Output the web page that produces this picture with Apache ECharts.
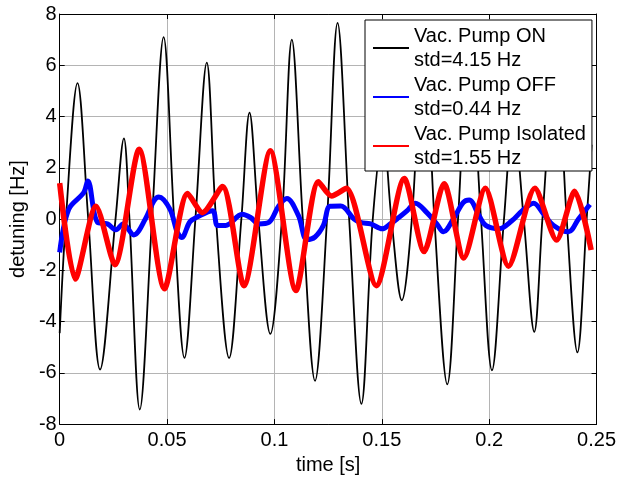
<!DOCTYPE html>
<html>
<head>
    <meta charset="utf-8">
    <script src="https://cdn.jsdelivr.net/npm/echarts@6/dist/echarts.min.js"></script>
    <style>html, body { margin: 0; padding: 0; background: #fff; }</style>
</head>
<body>
    <div id="main" style="width: 619px;height:480px;"></div>
    <script type="text/javascript">
        // 读图得到的数据 (time [s], detuning [Hz])
        var tOn = [0, 0.0029, 0.0083, 0.0133, 0.0188, 0.026, 0.0299, 0.0325, 0.0373, 0.043, 0.0484, 0.0533,
            0.0581, 0.0632, 0.0685, 0.0728, 0.0789, 0.0846, 0.0884, 0.0925, 0.0981, 0.1035, 0.1081, 0.1132,
            0.1189, 0.1245, 0.1294, 0.1348, 0.1405, 0.1458, 0.1506, 0.1545, 0.1593, 0.164, 0.1696, 0.1745,
            0.1805, 0.1855, 0.1906, 0.1962, 0.2013, 0.2069, 0.2112, 0.2161, 0.221, 0.2248, 0.2311, 0.2361,
            0.2411, 0.2454, 0.2477];
        var yOn = [-4.45, 0, 5.3, 0, -5.87, 0, 3.15, 0, -7.43, 0, 7.1, 0,
            -5.42, 0, 6.1, 0, -5.42, 0, 4.15, 0, -4.48, 0, 7.0, 0,
            -6.31, 0, 7.65, 0, -7.21, 0, 3.3, 0, -3.17, 0, 7.5, 0,
            -6.45, 0, 7.0, 0, -5.9, 0, 3.9, 0, -4.4, 0, 6.6, 0,
            -5.2, 0, 2.9];

        var tOff = [0, 0.0042, 0.0111, 0.0131, 0.0176, 0.0222, 0.0262, 0.0295, 0.0345, 0.0399, 0.0438, 0.0462,
            0.0514, 0.0545, 0.0568, 0.0607, 0.0645, 0.0712, 0.0735, 0.0773, 0.085, 0.0889, 0.0927, 0.0974,
            0.102, 0.1058, 0.1112, 0.1151, 0.1189, 0.1228, 0.1259, 0.1309, 0.1371, 0.1401, 0.1448, 0.1502,
            0.154, 0.1579, 0.1617, 0.1656, 0.171, 0.1756, 0.1787, 0.1833, 0.1879, 0.1907, 0.1953, 0.1984,
            0.2046, 0.2107, 0.2153, 0.2207, 0.2254, 0.23, 0.2369, 0.2416, 0.2469];
        var yOff = [-1.3, 0.38, 1.02, 1.48, -0.13, -0.19, -0.42, -0.19, -0.62, 0, 0.7, 0.86,
            0.38, -0.45, -0.72, -0.1, 0.1, 0.32, -0.25, -0.25, 0.19, 0.06, -0.19, -0.13,
            0.51, 0.8, 0.13, -0.8, -0.7, -0.25, 0.5, 0.51, 0, -0.13, -0.19, -0.38,
            -0.19, 0.06, 0.32, 0.62, 0.25, -0.19, -0.5, 0, 0.64, 0.74, 0.13, -0.25,
            -0.38, -0.06, 0.32, 0.62, 0.19, -0.25, -0.5, 0, 0.57];

        var tIso = [0, 0.00725, 0.0169, 0.0257, 0.037, 0.0488, 0.0596, 0.0665, 0.0758, 0.0858, 0.0981, 0.11,
            0.1205, 0.1266, 0.1335, 0.1474, 0.1605, 0.1697, 0.179, 0.1882, 0.1982, 0.209, 0.2213, 0.2314,
            0.2398, 0.2475];
        var yIso = [1.4, -2.34, 0.5, -1.78, 2.72, -2.72, 1.0, 0.25, 1.27, -2.6, 2.66, -2.79,
            1.46, 0.9, 1.2, -2.6, 1.58, -1.27, 1.38, -1.52, 1.2, -1.84, 1.2, -0.82,
            1.08, -1.21];

        var names = ['Vac. Pump ON', 'Vac. Pump OFF', 'Vac. Pump Isolated'];
        var stds = ['4.15', '0.44', '1.55'];

        function pairs(t, y) {
            return t.map(function (v, i) { return [v, y[i]]; });
        }

        var font = 'Liberation Sans, Arial, Helvetica, sans-serif';
        var gridLine = { show: true, lineStyle: { color: '#b4b4b4', width: 1, type: 'solid' } };
        var blackLine = { show: true, onZero: false, lineStyle: { color: '#000', width: 1 } };
        var tick = { show: true, inside: true, length: 5, lineStyle: { color: '#000' } };
        var lbl = { color: '#000', fontSize: 20, fontFamily: font };

        var myChart = echarts.init(document.getElementById('main'));
        var option = {
            animation: false,
            backgroundColor: '#fff',
            grid: { left: 56, right: 22, top: 14, bottom: 47, containLabel: false },
            legend: {
                orient: 'vertical',
                left: 365,
                top: 20,
                icon: 'rect',
                itemWidth: 36,
                itemHeight: 2,
                itemGap: 1,
                padding: [4, 6, 1, 8],
                borderColor: '#000',
                borderWidth: 1,
                borderRadius: 0,
                backgroundColor: '#fff',
                textStyle: { color: '#000', fontSize: 20, lineHeight: 24, fontFamily: font },
                data: names,
                formatter: function (name) {
                    return name + '\nstd=' + stds[names.indexOf(name)] + ' Hz';
                }
            },
            xAxis: [{
                type: 'value', min: 0, max: 0.25, interval: 0.05,
                name: 'time [s]', nameLocation: 'middle', nameGap: 25,
                nameTextStyle: lbl,
                axisLine: blackLine, axisTick: tick,
                axisLabel: Object.assign({ margin: 6 }, lbl),
                splitLine: gridLine
            }, {
                type: 'value', min: 0, max: 0.25, interval: 0.05, position: 'top',
                axisLine: blackLine, axisTick: tick, axisLabel: { show: false },
                splitLine: { show: false }
            }],
            yAxis: [{
                type: 'value', min: -8, max: 8, interval: 2,
                name: 'detuning [Hz]', nameLocation: 'middle', nameGap: 30,
                nameTextStyle: lbl,
                axisLine: blackLine, axisTick: tick,
                axisLabel: Object.assign({ margin: 3 }, lbl),
                splitLine: gridLine
            }, {
                type: 'value', min: -8, max: 8, interval: 2, position: 'right',
                axisLine: blackLine, axisTick: tick, axisLabel: { show: false },
                splitLine: { show: false }
            }],
            series: [{
                name: names[0], type: 'line', symbol: 'none', smooth: 0.35,
                lineStyle: { color: '#000', width: 1.8 }, itemStyle: { color: '#000' },
                data: pairs(tOn, yOn)
            }, {
                name: names[1], type: 'line', symbol: 'none', smooth: 0.35,
                lineStyle: { color: '#0000ff', width: 5 }, itemStyle: { color: '#0000ff' },
                data: pairs(tOff, yOff)
            }, {
                name: names[2], type: 'line', symbol: 'none', smooth: 0.25,
                lineStyle: { color: '#ff0000', width: 5.5 }, itemStyle: { color: '#ff0000' },
                data: pairs(tIso, yIso)
            }]
        };
        myChart.setOption(option);
    </script>
</body>
</html>
